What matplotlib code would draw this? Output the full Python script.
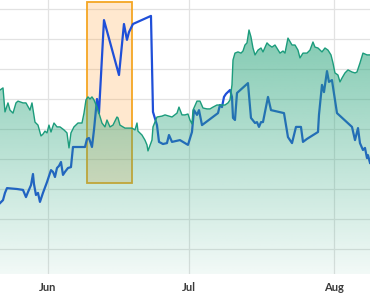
import numpy as np
import pandas as pd
import matplotlib
matplotlib.use('Agg')
import matplotlib.pyplot as plt
import matplotlib.dates as mdates
from matplotlib.colors import to_rgb
from matplotlib.patches import Rectangle

##### Dados (dias contados a partir de 1 de junho)

inicio = pd.Timestamp('2024-06-01')

verde_dias = [-10.23, -9.59, -9.17, -8.53, -8.10, -7.46, -6.82, -6.40, -5.33, -4.69,
              -3.84, -3.41, -2.77, -2.13, -1.49, -1.07, -0.64, -0.21, 0.21, 0.64,
              1.28, 1.92, 2.56, 3.41, 4.05, 4.48, 4.90, 5.54, 6.40, 7.25,
              7.68, 8.10, 8.53, 8.96, 9.38, 9.81, 10.45, 10.87, 11.51, 12.15,
              12.58, 13.22, 13.86, 14.71, 14.93, 15.35, 16.42, 17.91, 18.55, 18.98,
              19.19, 20.04, 20.68, 21.11, 21.32, 22.17, 22.39, 23.24, 24.31, 24.95,
              26.44, 27.51, 27.93, 28.57, 29.21, 29.85, 30.28, 30.70, 30.92, 31.77,
              32.41, 33.05, 33.90, 34.54, 35.18, 36.03, 37.74, 38.38, 38.81, 39.23,
              39.45, 39.87, 40.51, 41.15, 41.58, 42.00, 42.43, 42.86, 43.28, 43.71,
              44.14, 44.78, 45.42, 45.84, 46.70, 47.12, 47.76, 48.40, 49.47, 50.11,
              50.53, 51.17, 52.03, 52.67, 53.30, 53.73, 54.37, 55.22, 55.86, 56.50,
              56.93, 57.57, 58.42, 59.06, 59.70, 60.34, 60.77, 61.19, 61.83, 62.26,
              62.69, 63.33, 63.97, 64.82, 65.46, 65.88, 66.52, 67.16, 68.02, 68.66]
verde_vals = [63.0, 63.7, 55.7, 58.7, 56.3, 55.3, 58.7, 59.3, 58.7, 58.7,
              56.3, 58.7, 52.3, 51.3, 47.7, 48.3, 49.3, 48.7, 51.3, 49.0,
              52.0, 50.7, 50.7, 49.7, 48.7, 43.7, 48.7, 50.7, 52.0, 52.0,
              55.3, 59.7, 60.7, 60.0, 60.7, 59.7, 57.3, 55.3, 52.0, 50.7,
              53.0, 50.7, 51.3, 54.0, 53.7, 51.3, 50.3, 50.3, 49.7, 52.0,
              49.3, 48.0, 46.3, 44.7, 42.7, 46.3, 50.7, 54.0, 54.3, 54.7,
              54.0, 55.3, 57.3, 54.7, 54.7, 55.0, 53.0, 51.7, 56.3, 59.3,
              59.3, 57.0, 56.7, 56.7, 57.3, 58.0, 58.0, 58.7, 59.7, 64.7,
              73.0, 75.3, 75.7, 75.3, 76.0, 78.0, 78.7, 83.0, 80.7, 77.0,
              74.7, 76.3, 77.0, 75.7, 78.7, 78.0, 77.3, 78.0, 75.3, 76.0,
              75.3, 80.3, 78.0, 78.0, 76.3, 73.7, 75.3, 75.3, 76.3, 79.0,
              77.3, 77.0, 75.7, 77.0, 76.3, 74.7, 72.0, 68.7, 68.0, 65.7,
              67.0, 68.7, 69.7, 69.0, 68.7, 69.0, 72.0, 75.3, 74.7, 74.7]

azul_dias = [-10.23, -9.59, -9.17, -8.74, -6.61, -5.33, -4.69, -4.26, -3.62, -3.20,
             -2.99, -2.56, -2.13, -1.71, -1.07, -0.21, 0.64, 1.07, 1.49, 1.92,
             2.35, 2.77, 3.20, 3.62, 4.26, 4.90, 5.33, 7.89, 8.32, 8.74,
             9.38, 9.81, 10.45, 10.87, 11.94, 15.14, 16.20, 16.84, 17.27, 18.12,
             21.96, 22.39, 23.24, 23.67, 24.52, 25.37, 25.80, 26.44, 28.14, 29.21,
             29.85, 30.70, 31.13, 31.77, 32.20, 32.84, 36.25, 36.67, 37.10, 37.53,
             37.95, 38.81, 39.23, 39.45, 39.87, 40.30, 42.64, 43.28, 44.14, 44.56,
             44.99, 45.42, 45.84, 46.91, 47.55, 50.32, 51.17, 52.03, 52.88, 53.94,
             54.37, 55.22, 57.57, 57.78, 58.42, 58.85, 59.49, 59.91, 60.55, 60.77,
             61.62, 64.82, 65.46, 66.10, 66.52, 67.16, 67.59, 68.02, 68.23, 68.66]
azul_vals = [25.3, 26.3, 28.7, 30.3, 30.0, 29.7, 27.3, 29.0, 31.3, 35.0,
             31.7, 28.0, 28.7, 25.7, 28.7, 32.3, 36.3, 35.7, 34.0, 37.0,
             37.7, 39.0, 34.7, 35.7, 37.0, 37.3, 44.0, 44.0, 46.7, 47.0,
             44.0, 49.7, 60.0, 55.3, 86.3, 68.0, 85.0, 79.7, 82.3, 85.0,
             87.7, 55.7, 51.3, 45.7, 45.0, 45.3, 48.0, 45.7, 46.3, 45.3,
             44.7, 49.0, 56.3, 54.7, 56.3, 51.3, 55.3, 58.0, 57.3, 60.7,
             61.7, 63.0, 60.7, 53.7, 53.0, 62.0, 65.3, 53.7, 52.0, 52.3,
             50.7, 52.3, 52.3, 60.7, 56.3, 55.3, 47.3, 45.3, 50.7, 50.7,
             45.7, 46.7, 49.0, 54.7, 64.7, 62.3, 69.3, 65.7, 66.3, 64.0,
             55.3, 50.7, 46.3, 50.3, 45.3, 43.0, 43.7, 40.3, 41.3, 38.7]

# destaque laranja
caixa_dias = [8.3, 17.9]
caixa_vals = [32.0, 92.3]

meses = ['2024-06-01', '2024-07-01', '2024-08-01']
meses_rotulos = ['Jun', 'Jul', 'Aug']

##### Convertendo datas

def para_num(dias):
    return mdates.date2num(inicio + pd.to_timedelta(dias, unit='D'))

xv = para_num(verde_dias)
xa = para_num(azul_dias)
x_min, x_max = para_num([-10.23, 68.66])
y_min, y_max = 1.67, 93.0

##### Gráfico

fig = plt.figure(figsize=(3.7, 2.97), dpi=100)
ax = fig.add_axes([0, 23 / 297, 1, 274 / 297])

ax.set_yticks(np.arange(10, 100, 10))
ax.set_xticks(mdates.date2num(pd.to_datetime(meses)))
ax.set_xticklabels(meses_rotulos)
ax.grid(True, color='#e2e2e2', lw=0.9, zorder=0)
ax.set_axisbelow(True)
for s in ax.spines.values():
    s.set_visible(False)
ax.tick_params(left=False, labelleft=False, bottom=False, pad=2)
for t in ax.get_xticklabels():
    t.set_fontfamily('Lato')
    t.set_fontweight('bold')
    t.set_fontsize(8)
    t.set_color('#3a3a3a')

# caixa de destaque
cx0, cx1 = para_num(caixa_dias)
ax.add_patch(Rectangle((cx0, caixa_vals[0]), cx1 - cx0, caixa_vals[1] - caixa_vals[0],
                       facecolor=(1.0, 0.65, 0.25, 0.25), edgecolor='#f5a623', lw=1.3, zorder=1.5))

# linha azul
ax.plot(xa, azul_vals, color='#1f4fd8', lw=1.6, zorder=2, solid_joinstyle='round')

# área verde com gradiente
area = ax.fill_between(xv, 0, verde_vals, facecolor='none', edgecolor='none')
rgb = to_rgb('#2ba57c')
grad = np.zeros((256, 1, 4))
grad[:, 0, :3] = rgb
grad[:, 0, 3] = np.linspace(0.05, 0.66, 256)
img = ax.imshow(grad, extent=[x_min, x_max, 0, y_max], origin='lower', aspect='auto',
                interpolation='bilinear', zorder=2.5)
img.set_clip_path(area.get_paths()[0], transform=ax.transData)
ax.plot(xv, verde_vals, color='#1c9c7c', lw=1.0, zorder=3)

ax.set_xlim(x_min, x_max)
ax.set_ylim(y_min, y_max)

plt.savefig('out.png', dpi=100)
